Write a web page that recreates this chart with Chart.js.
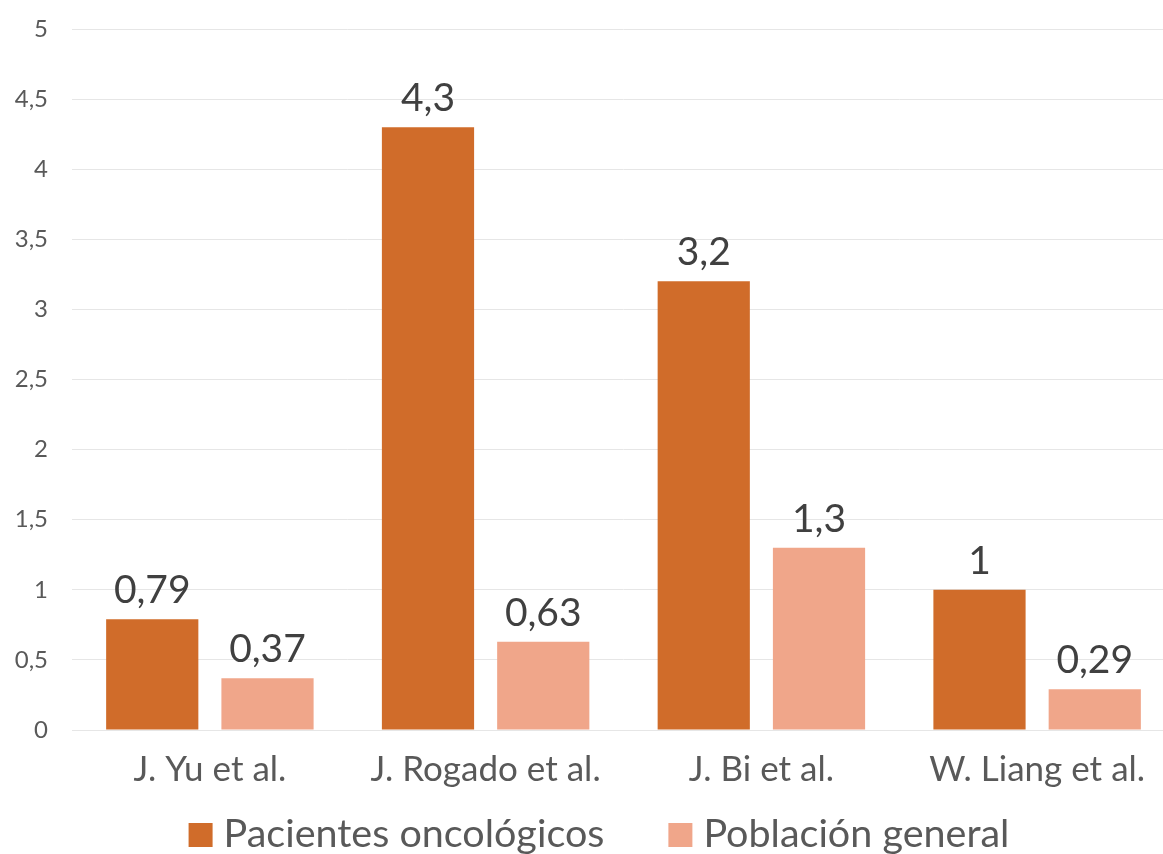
<!DOCTYPE html>
<html>
<head>
<meta charset="utf-8">
<script src="https://cdn.jsdelivr.net/npm/chart.js@4.4.1/dist/chart.umd.min.js"></script>
<style>
html,body{margin:0;padding:0;background:#fff;overflow:hidden;}
#wrap{width:1175px;height:854px;}
</style>
</head>
<body>
<div id="wrap"><canvas id="c" width="1175" height="854"></canvas></div>
<script>
const categories = ["J. Yu et al.", "J. Rogado et al.", "J. Bi et al.", "W. Liang et al."];
const pacientes = [0.79, 4.3, 3.2, 1];
const poblacion = [0.37, 0.63, 1.3, 0.29];
const seriesNames = ["Pacientes oncológicos", "Población general"];
const yTicks = [0, 0.5, 1, 1.5, 2, 2.5, 3, 3.5, 4, 4.5, 5];

const fmt = v => String(v).replace('.', ',');
const FONT = "Lato, 'Open Sans', sans-serif";

const labelPlugin = {
  id: 'valueLabels',
  afterDatasetsDraw(chart) {
    const ctx = chart.ctx;
    ctx.save();
    ctx.font = "39px " + FONT;
    ctx.fillStyle = "#404040";
    ctx.textAlign = "center";
    ctx.textBaseline = "alphabetic";
    chart.data.datasets.forEach((ds, i) => {
      chart.getDatasetMeta(i).data.forEach((bar, j) => {
        ctx.fillText(fmt(ds.data[j]), bar.x, bar.y - 16);
      });
    });
    ctx.restore();
  }
};

// legend drawn from the datasets (labels + colours)
const legendPlugin = {
  id: 'bottomLegend',
  afterDraw(chart) {
    const ctx = chart.ctx;
    const box = 24, gapText = 11, gapItem = 64, baseline = 847, centerX = 599;
    ctx.save();
    ctx.font = "39.5px " + FONT;
    ctx.textBaseline = "alphabetic";
    ctx.textAlign = "left";
    const items = chart.data.datasets.map(ds => ({ text: ds.label, color: ds.backgroundColor, w: ctx.measureText(ds.label).width }));
    let total = items.reduce((s, it) => s + box + gapText + it.w, 0) + gapItem * (items.length - 1);
    let x = centerX - total / 2;
    items.forEach(it => {
      ctx.fillStyle = it.color;
      ctx.fillRect(x, baseline - box, box, box);
      ctx.fillStyle = "#595959";
      ctx.fillText(it.text, x + box + gapText, baseline);
      x += box + gapText + it.w + gapItem;
    });
    ctx.restore();
  }
};

new Chart(document.getElementById('c'), {
  type: 'bar',
  data: {
    labels: categories,
    datasets: [
      { label: seriesNames[0], data: pacientes, backgroundColor: "#D06C2A" },
      { label: seriesNames[1], data: poblacion, backgroundColor: "#F0A68A" }
    ]
  },
  options: {
    responsive: false,
    animation: false,
    layout: { padding: { top: 29, left: 0, right: 0, bottom: 60 } },
    datasets: { bar: { categoryPercentage: 0.836, barPercentage: 0.8 } },
    plugins: {
      legend: { display: false },
      tooltip: { enabled: false }
    },
    scales: {
      y: {
        min: 0, max: 5,
        afterBuildTicks(scale) { scale.ticks = yTicks.map(v => ({ value: v })); },
        afterFit(scale) { scale.width = 72; scale.paddingTop = 0; scale.paddingBottom = 0; },
        ticks: {
          font: { family: FONT, size: 24 },
          color: "#595959",
          padding: 24,
          callback: v => fmt(v)
        },
        grid: { color: "#e6e6e6", drawTicks: false },
        border: { display: false }
      },
      x: {
        afterFit(scale) { scale.height = 64; },
        ticks: {
          font: { family: FONT, size: 35 },
          color: "#595959",
          padding: 19
        },
        grid: { display: false, drawTicks: false },
        border: { display: true, color: "#e6e6e6" }
      }
    }
  },
  plugins: [labelPlugin, legendPlugin]
});
</script>
</body>
</html>
